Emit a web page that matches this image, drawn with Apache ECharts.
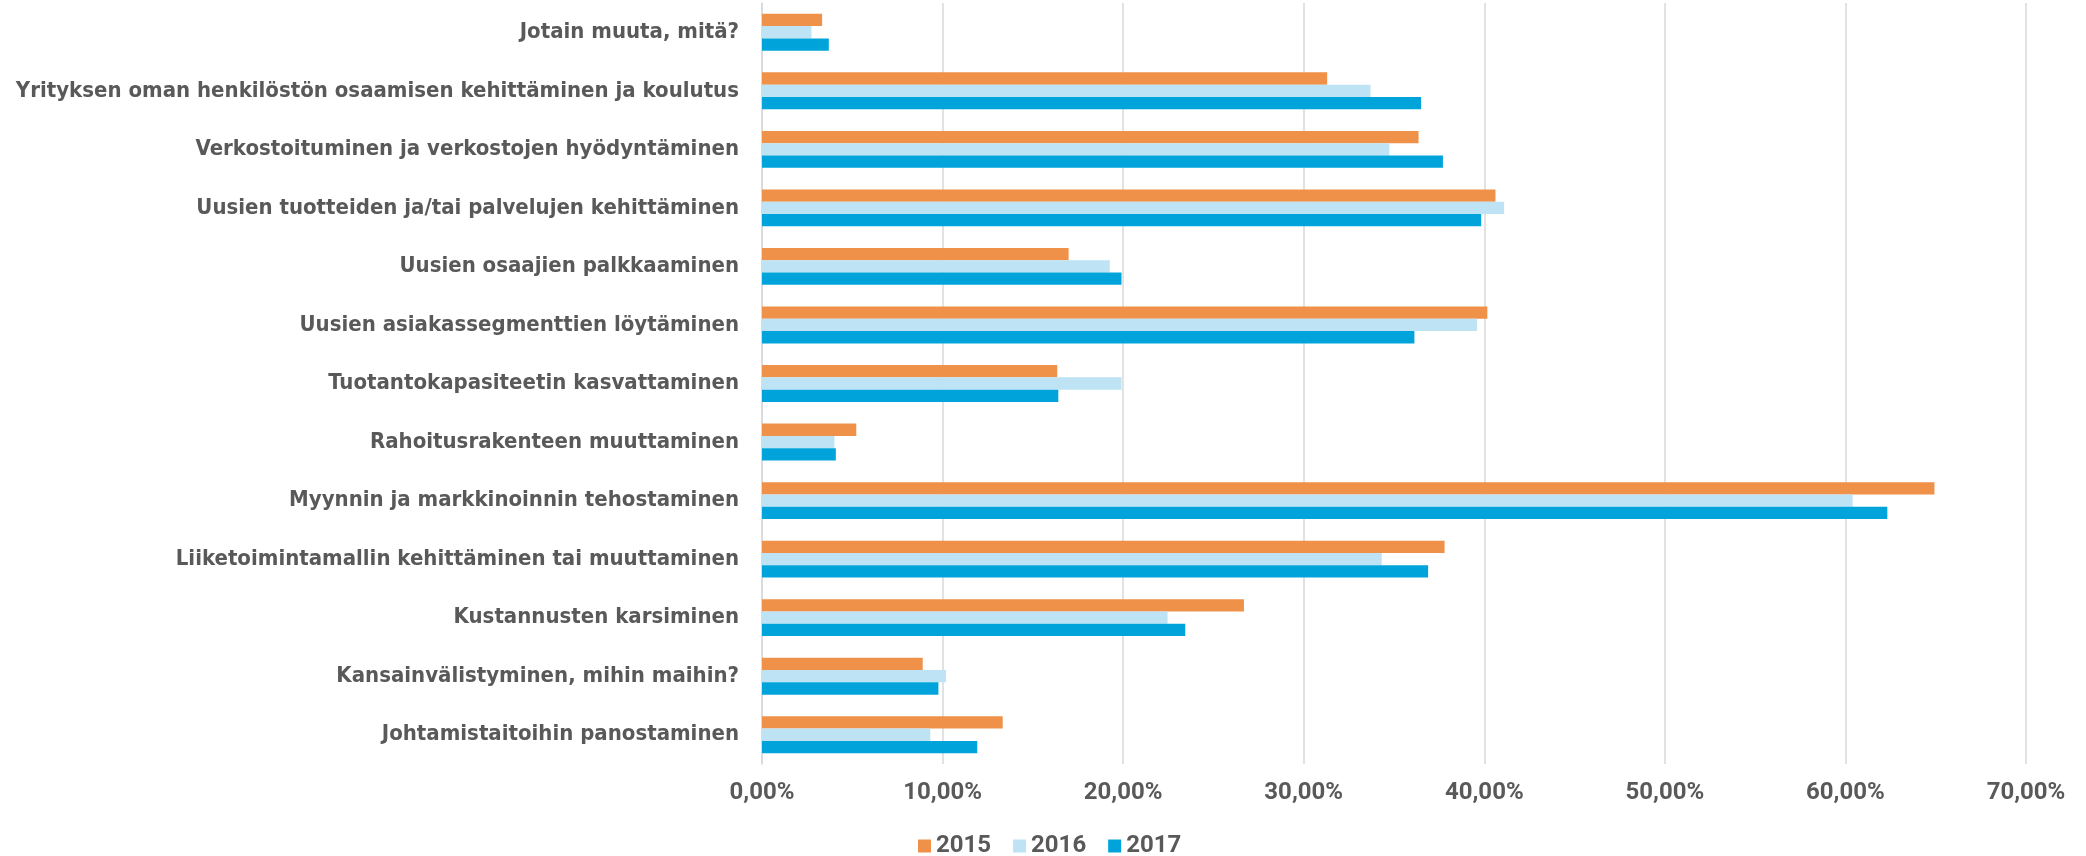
<!DOCTYPE html>
<html>
<head>
<meta charset="utf-8">
<script src="https://cdn.jsdelivr.net/npm/echarts@6/dist/echarts.min.js"></script>
<style>
html,body{margin:0;padding:0;background:#fff;}
#chart{width:2086px;height:856px;}
</style>
</head>
<body>
<div id="chart"></div>
<script>
const categories = [
  "Jotain muuta, mitä?",
  "Yrityksen oman henkilöstön osaamisen kehittäminen ja koulutus",
  "Verkostoituminen ja verkostojen hyödyntäminen",
  "Uusien tuotteiden ja/tai palvelujen kehittäminen",
  "Uusien osaajien palkkaaminen",
  "Uusien asiakassegmenttien löytäminen",
  "Tuotantokapasiteetin kasvattaminen",
  "Rahoitusrakenteen muuttaminen",
  "Myynnin ja markkinoinnin tehostaminen",
  "Liiketoimintamallin kehittäminen tai muuttaminen",
  "Kustannusten karsiminen",
  "Kansainvälistyminen, mihin maihin?",
  "Johtamistaitoihin panostaminen"
];
const seriesNames = ["2015", "2016", "2017"];
const values2015 = [3.33, 31.3, 36.36, 40.62, 16.98, 40.17, 16.35, 5.22, 64.93, 37.80, 26.69, 8.90, 13.33];
const values2016 = [2.74, 33.7, 34.74, 41.10, 19.26, 39.60, 19.91, 4.01, 60.40, 34.32, 22.46, 10.19, 9.32];
const values2017 = [3.70, 36.5, 37.71, 39.83, 19.91, 36.13, 16.41, 4.09, 62.32, 36.89, 23.44, 9.77, 11.92];
const xTicks = [0, 10, 20, 30, 40, 50, 60, 70];

const colors = ["#F0914A", "#BDE3F5", "#00A4DA"];
const FONT_NUM = "Roboto";
const FONT_CAT = "'DejaVu Sans Condensed', 'DejaVu Sans', sans-serif";
const chart = echarts.init(document.getElementById('chart'), null, {renderer: 'canvas'});
const allValues = [values2015, values2016, values2017];
chart.setOption({
  animation: false,
  color: colors,
  grid: {left: 762, right: 60, top: 3, bottom: 92, containLabel: false},
  legend: {
    data: seriesNames,
    left: 913,
    top: 829,
    itemWidth: 13,
    itemHeight: 13,
    itemGap: 22,
    icon: 'rect',
    textStyle: {fontFamily: FONT_NUM, fontWeight: 'bold', fontSize: 24, color: '#595959'}
  },
  xAxis: {
    type: 'value',
    min: xTicks[0],
    max: xTicks[xTicks.length - 1],
    interval: 10,
    axisLine: {show: false},
    axisTick: {show: false},
    splitLine: {show: true, lineStyle: {color: '#D9D9D9', width: 1.5}},
    axisLabel: {
      margin: 17,
      fontFamily: FONT_NUM, fontWeight: 'bold', fontSize: 24, color: '#595959',
      formatter: v => v.toFixed(2).replace('.', ',') + '%'
    }
  },
  yAxis: {
    type: 'category',
    data: categories,
    inverse: true,
    axisLine: {show: true, lineStyle: {color: '#D9D9D9', width: 1.5}},
    axisTick: {show: false},
    axisLabel: {margin: 23, fontFamily: FONT_CAT, fontWeight: 'bold', fontSize: 22, color: '#595959'}
  },
  series: seriesNames.map((name, i) => ({
    name: name,
    type: 'bar',
    data: allValues[i],
    barGap: '0%',
    barCategoryGap: '37%',
    itemStyle: {color: colors[i]}
  }))
});
</script>
</body>
</html>
